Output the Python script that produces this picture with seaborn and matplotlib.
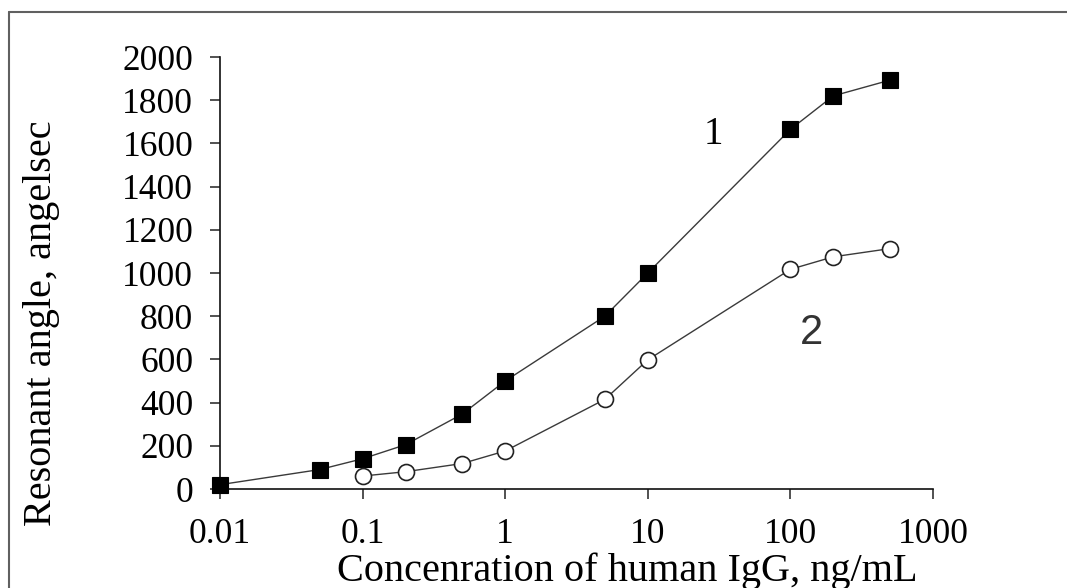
import matplotlib
matplotlib.use("Agg")
import matplotlib.pyplot as plt
import seaborn as sns
from matplotlib.lines import Line2D
from matplotlib.ticker import FixedLocator, FixedFormatter, NullLocator

# ---- data ----
conc_1 = [0.01, 0.05, 0.1, 0.2, 0.5, 1, 5, 10, 100, 200, 500]
angle_1 = [20, 90, 140, 205, 347, 500, 800, 1000, 1665, 1820, 1893]
conc_2 = [0.1, 0.2, 0.5, 1, 5, 10, 100, 200, 500]
angle_2 = [60, 80, 118, 176, 415, 598, 1017, 1075, 1113]

x_ticks = [0.01, 0.1, 1, 10, 100, 1000]
x_tick_labels = ["0.01", "0.1", "1", "10", "100", "1000"]
y_ticks = [0, 200, 400, 600, 800, 1000, 1200, 1400, 1600, 1800, 2000]
curve_labels = ["1", "2"]

sns.set_theme(style="ticks")
plt.rcParams["font.family"] = ["Liberation Serif", "DejaVu Serif"]

W, H = 1067, 588
fig = plt.figure(figsize=(W / 100, H / 100), dpi=100, facecolor="white")
ax = fig.add_axes([220 / W, 1 - 489 / H, (933 - 220) / W, (489 - 57) / H])
ax.set_facecolor("white")

sns.lineplot(x=conc_1, y=angle_1, ax=ax, color="#3a3a3a", linewidth=1.0,
             marker="s", markersize=12, markerfacecolor="black",
             markeredgecolor="black", markeredgewidth=0.8,
             clip_on=False, zorder=4)
sns.lineplot(x=conc_2, y=angle_2, ax=ax, color="#3a3a3a", linewidth=1.0,
             marker="o", markersize=11.5, markerfacecolor="white",
             markeredgecolor="#222222", markeredgewidth=1.2,
             clip_on=False, zorder=4)

ax.set_xscale("log")
ax.set_xlim(0.01, 1000)
ax.set_ylim(0, 2000)
ax.xaxis.set_major_locator(FixedLocator(x_ticks))
ax.xaxis.set_major_formatter(FixedFormatter(x_tick_labels))
ax.xaxis.set_minor_locator(NullLocator())
ax.set_yticks(y_ticks)
ax.set_yticklabels([str(v) for v in y_ticks])

ax.tick_params(axis="both", which="major", direction="out", length=7.2,
               width=1.1, color="#222222", labelsize=25.5, labelcolor="black")
ax.tick_params(axis="x", pad=14)
ax.tick_params(axis="y", pad=12)

for side in ("top", "right"):
    ax.spines[side].set_visible(False)
for side in ("left", "bottom"):
    ax.spines[side].set_linewidth(1.2)
    ax.spines[side].set_color("#111111")

ax.set_xlabel("Concenration of human IgG, ng/mL", fontsize=29, color="black")
ax.xaxis.set_label_coords(0.571, -0.146)
ax.set_ylabel("Resonant angle, angelsec", fontsize=29, color="black")
ax.yaxis.set_label_coords(-0.2244, 0.384)

ax.text(28.6, 1639, curve_labels[0], fontsize=28, color="black",
        ha="center", va="center")
ax.text(141.6, 722, curve_labels[1], fontsize=30, color="#333333",
        family=["Liberation Sans", "DejaVu Sans"], ha="center", va="center")

# outer frame (only left and top edges are visible in the crop)
fig.add_artist(Line2D([9 / W, 9 / W], [0, 1 - 12 / H], transform=fig.transFigure,
                      color="#606060", linewidth=1.5))
fig.add_artist(Line2D([9 / W, 1], [1 - 12 / H, 1 - 12 / H], transform=fig.transFigure,
                      color="#606060", linewidth=1.5))

fig.savefig("out.png", dpi=100, facecolor="white")
